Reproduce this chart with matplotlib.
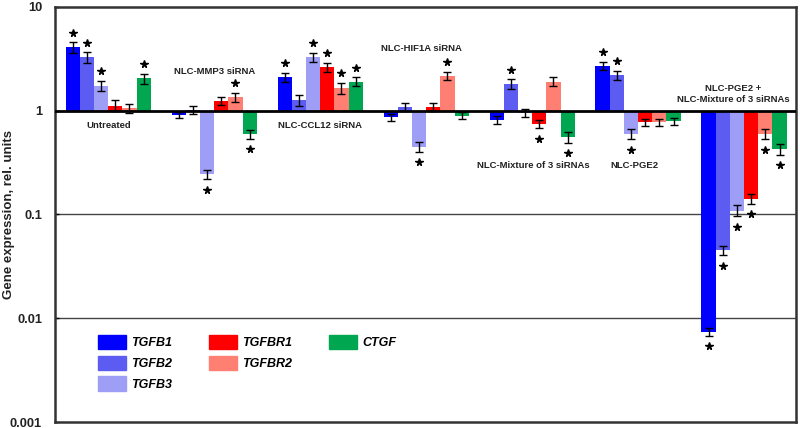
import numpy as np
import matplotlib
matplotlib.use("Agg")
import matplotlib.pyplot as plt
from matplotlib.patches import Patch
from matplotlib.transforms import offset_copy

plt.rcParams['font.family'] = ['Liberation Sans', 'DejaVu Sans']

groups = ["Untreated", "NLC-MMP3 siRNA", "NLC-CCL12 siRNA", "NLC-HIF1A siRNA",
          "NLC-Mixture of 3 siRNAs", "NLC-PGE2", "NLC-PGE2 +\nNLC-Mixture of 3 siRNAs"]
genes = ["TGFB1", "TGFB2", "TGFB3", "TGFBR1", "TGFBR2", "CTGF"]
colors = ["#0000FF", "#5C5CF2", "#9E9EF7", "#FF0000", "#FF7F73", "#00A650"]

# values per gene, across the 7 groups
TGFB1 = [4.06, 0.915, 2.09, 0.86, 0.82, 2.71, 0.0074]
TGFB2 = [3.26, 1.02, 1.27, 1.08, 1.80, 2.20, 0.045]
TGFB3 = [1.74, 0.243, 3.26, 0.45, 0.95, 0.597, 0.109]
TGFBR1 = [1.12, 1.25, 2.61, 1.09, 0.745, 0.77, 0.1415]
TGFBR2 = [1.05, 1.34, 1.65, 2.17, 1.90, 0.77, 0.597]
CTGF = [2.05, 0.597, 1.90, 0.895, 0.554, 0.79, 0.428]
values = [TGFB1, TGFB2, TGFB3, TGFBR1, TGFBR2, CTGF]

# relative errors
err_TGFB1 = [0.12, 0.07, 0.10, 0.08, 0.09, 0.09, 0.09]
err_TGFB2 = [0.12, 0.08, 0.12, 0.09, 0.11, 0.10, 0.10]
err_TGFB3 = [0.11, 0.10, 0.10, 0.11, 0.08, 0.11, 0.12]
err_TGFBR1 = [0.12, 0.09, 0.10, 0.09, 0.09, 0.08, 0.10]
err_TGFBR2 = [0.10, 0.10, 0.12, 0.09, 0.10, 0.08, 0.11]
err_CTGF = [0.11, 0.10, 0.10, 0.08, 0.12, 0.08, 0.12]
rel_errors = [err_TGFB1, err_TGFB2, err_TGFB3, err_TGFBR1, err_TGFBR2, err_CTGF]

# significance flags
sig_TGFB1 = [1, 0, 1, 0, 0, 1, 1]
sig_TGFB2 = [1, 0, 0, 0, 1, 1, 1]
sig_TGFB3 = [1, 1, 1, 1, 0, 1, 1]
sig_TGFBR1 = [0, 0, 1, 0, 1, 0, 1]
sig_TGFBR2 = [0, 1, 1, 1, 0, 0, 1]
sig_CTGF = [1, 1, 1, 0, 1, 0, 1]
sigs = [sig_TGFB1, sig_TGFB2, sig_TGFB3, sig_TGFBR1, sig_TGFBR2, sig_CTGF]

fig = plt.figure(figsize=(8, 4.28), dpi=100)
ax = fig.add_axes([0.069, 0.014, 0.926, 0.970])
ax.set_yscale('log')
ax.set_ylim(0.001, 10)
ax.set_xlim(-0.5, 6.49)

w = 0.134
x = np.arange(len(groups))
up_off = offset_copy(ax.transData, fig=fig, y=7, units='points')
dn_off = offset_copy(ax.transData, fig=fig, y=-7.5, units='points')

for j, g in enumerate(genes):
    xs = x + (j - 2.5) * w
    v = np.array(values[j])
    e = np.array(rel_errors[j]) * v
    ax.bar(xs, v - 1, bottom=1, width=w, color=colors[j], zorder=2, linewidth=0)
    ax.errorbar(xs, v, yerr=e, fmt='none', ecolor='black', elinewidth=1,
                capsize=3, capthick=1, zorder=4)
    for xi, vi, ei, s in zip(xs, v, e, sigs[j]):
        if s:
            if vi >= 1:
                ax.plot(xi, vi + ei, marker='*', color='black', ms=5.5,
                        transform=up_off, zorder=5, clip_on=False)
            else:
                ax.plot(xi, vi - ei, marker='*', color='black', ms=5.5,
                        transform=dn_off, zorder=5, clip_on=False)

ax.axhline(1, color='black', lw=2, zorder=3)
for yv in [0.1, 0.01]:
    ax.axhline(yv, color='#444444', lw=1, zorder=1)

label_pos = [(0.0, 0.717), (1.005, 2.37), (2.0, 0.717), (2.96, 3.95),
             (4.01, 0.296), (4.97, 0.296), (5.90, 1.457)]
for name, (lx, ly) in zip(groups, label_pos):
    ax.text(lx, ly, name, ha='center', va='center', fontsize=6.8,
            fontweight='bold', color='#222222', linespacing=1.3)

ax.set_yticks([0.001, 0.01, 0.1, 1, 10])
ax.set_yticklabels(["0.001", "0.01", "0.1", "1", "10"], fontsize=9.3,
                   fontweight='bold', color='#222222')
ax.minorticks_off()
ax.tick_params(axis='y', direction='in', length=3, width=1, pad=9.5)
ax.set_xticks([])
ax.set_ylabel("Gene expression, rel. units", fontsize=9.5, fontweight='bold',
              color='#222222', va='center')
ax.yaxis.set_label_coords(-0.0625, 0.5)
for sp in ax.spines.values():
    sp.set_color('#333333')
    sp.set_linewidth(1.8)

blank = Patch(color='none', label='')
handles = [Patch(color=colors[0], label=genes[0]),
           Patch(color=colors[1], label=genes[1]),
           Patch(color=colors[2], label=genes[2]),
           Patch(color=colors[3], label=genes[3]),
           Patch(color=colors[4], label=genes[4]),
           blank,
           Patch(color=colors[5], label=genes[5]),
           blank, blank]
leg = ax.legend(handles=handles, labels=[h.get_label() for h in handles],
                ncol=3, loc='upper left', bbox_to_anchor=(98 / 800, 1 - 335 / 428),
                bbox_transform=fig.transFigure, frameon=False,
                prop={'size': 9, 'weight': 'bold', 'style': 'italic'},
                handlelength=2.24, handleheight=1.36, handletextpad=0.44,
                labelspacing=0.52, columnspacing=2.9, borderpad=0, borderaxespad=0)

fig.savefig("out.png", dpi=100)
